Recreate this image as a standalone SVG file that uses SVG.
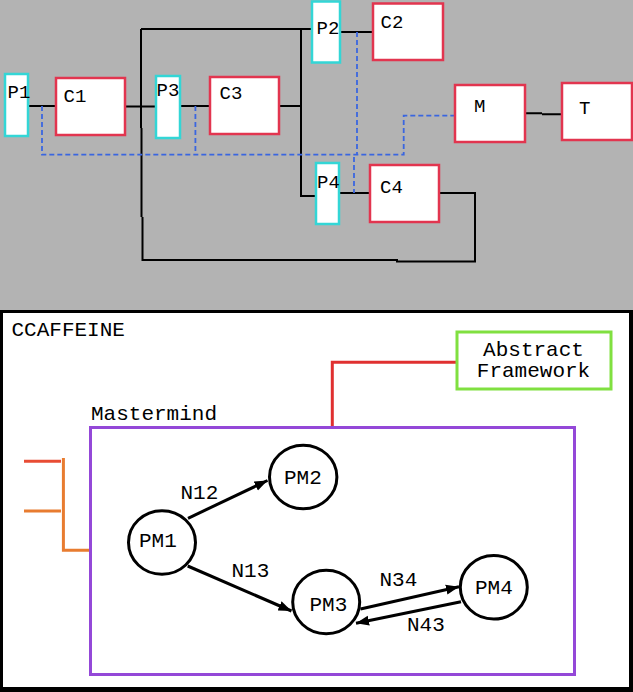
<svg xmlns="http://www.w3.org/2000/svg" width="633" height="692" viewBox="0 0 633 692">
<style>
.port{fill:#fff;stroke:#33d6d6;stroke-width:2.5}
.comp{fill:#fff;stroke:#e2354f;stroke-width:2.5}
.t1{font-family:"Liberation Mono","Courier New",monospace;font-size:19px;fill:#000}
.t2{font-family:"Liberation Mono","Courier New",monospace;font-size:21px;fill:#000}
.wire{fill:none;stroke:#000;stroke-width:2}
.dash{fill:none;stroke:#3a66e0;stroke-width:1.8;stroke-dasharray:5 3}
.pm{fill:#fff;stroke:#000;stroke-width:3}
.edge{fill:none;stroke:#000;stroke-width:3}
</style>
<defs>
<marker id="arr" markerUnits="userSpaceOnUse" markerWidth="14" markerHeight="12" refX="13" refY="6" orient="auto">
<path d="M0,1 L13,6 L0,11 Z" fill="#000"/>
</marker>
</defs>
<rect x="0" y="0" width="633" height="310" fill="#b3b3b3"/>
<rect x="0" y="310" width="633" height="382" fill="#000"/>
<rect x="3" y="313" width="626" height="374" fill="#fff"/>
<g id="connectors">
<path class="wire" d="M141,29 H312 M141,29 V128"/>
<path class="wire" stroke-width="2.5" d="M141.5,128 V217 M142.5,217 V260 H398 M396,261.5 H475 V193 H439"/>
<path class="wire" stroke-width="2.5" d="M28,106 H56 M125,106.5 H156 M180,106 H210"/>
<path class="wire" stroke-width="1.7" d="M279,106 H301 M301,29 V196 H316"/>
<path class="wire" d="M341,32 H373"/>
<path class="wire" stroke-width="3" d="M339,193 H370"/>
<path class="wire" stroke-width="3" d="M525,113.3 H542 M542,114.3 H562"/>
<path class="dash" d="M42,106 V154.7 H403.7 V115.7 H455"/>
<path class="dash" d="M195.4,106 V154.7"/>
<path class="dash" d="M357,32 V154"/>
<path class="dash" stroke-width="2.2" d="M354,157 V193"/>
<path fill="none" stroke="#e03030" stroke-width="3" d="M457,362.3 H332.3 V427"/>
<path fill="none" stroke="#e84c34" stroke-width="3" d="M24,461.3 H61"/>
<path fill="none" stroke="#e87c30" stroke-width="3" d="M24,511 H61 M63.4,458 V550.3 H90"/>
<line class="edge" x1="188" y1="518.3" x2="267.5" y2="480.5" marker-end="url(#arr)"/>
<line class="edge" x1="187.7" y1="566" x2="291.5" y2="611" marker-end="url(#arr)"/>
<line class="edge" x1="360.5" y1="609" x2="459" y2="586.7" marker-end="url(#arr)"/>
<line class="edge" x1="461" y1="601.7" x2="356" y2="623.3" marker-end="url(#arr)"/>
</g>
<g id="P1"><rect class="port" x="5" y="74" width="23" height="62"/><text class="t1" x="7.5" y="98">P1</text></g>
<g id="C1"><rect class="comp" x="56" y="78" width="69" height="57"/><text class="t1" x="63.5" y="101.5">C1</text></g>
<g id="P3"><rect class="port" x="156" y="76" width="24" height="62"/><text class="t1" x="156.5" y="96">P3</text></g>
<g id="C3"><rect class="comp" x="210" y="77" width="69" height="57"/><text class="t1" x="219.5" y="99">C3</text></g>
<g id="P2"><rect class="port" x="312" y="1.5" width="28" height="61"/><text class="t1" x="316.5" y="34">P2</text></g>
<g id="C2"><rect class="comp" x="373" y="3.5" width="70" height="56.5"/><text class="t1" x="380.5" y="28">C2</text></g>
<g id="P4"><rect class="port" x="316" y="163" width="23" height="61"/><text class="t1" x="317" y="188.3">P4</text></g>
<g id="C4"><rect class="comp" x="370" y="165" width="69" height="57"/><text class="t1" x="380" y="192.7">C4</text></g>
<g id="M"><rect class="comp" x="455" y="85" width="70" height="57"/><text class="t1" x="474" y="112">M</text></g>
<g id="T"><rect class="comp" x="562" y="83" width="70" height="57"/><text class="t1" x="579" y="114">T</text></g>
<g id="CCAFFEINE"><text class="t2" x="11.5" y="336">CCAFFEINE</text></g>
<g id="AbstractFramework"><rect x="457" y="332" width="154" height="57" fill="#fff" stroke="#80e040" stroke-width="3"/><text class="t2" x="533.5" y="355.7" text-anchor="middle">Abstract</text><text class="t2" x="533.5" y="377.3" text-anchor="middle">Framework</text></g>
<g id="Mastermind"><rect x="90.5" y="427.5" width="484" height="247" fill="none" stroke="#9448d8" stroke-width="3"/><text class="t2" x="91" y="420">Mastermind</text></g>
<g id="PM1"><ellipse class="pm" cx="162" cy="542.5" rx="33.5" ry="31.8"/><text class="t2" x="139" y="547.3">PM1</text></g>
<g id="PM2"><ellipse class="pm" cx="303.2" cy="477" rx="33.7" ry="31.8"/><text class="t2" x="284" y="484.3">PM2</text></g>
<g id="PM3"><ellipse class="pm" cx="326.2" cy="602" rx="33.5" ry="31.8"/><text class="t2" x="309.5" y="611">PM3</text></g>
<g id="PM4"><ellipse class="pm" cx="493.8" cy="587.3" rx="33.5" ry="31.8"/><text class="t2" x="475" y="594">PM4</text></g>
<g id="labels">
<text class="t2" x="180.5" y="499">N12</text>
<text class="t2" x="231.5" y="577">N13</text>
<text class="t2" x="379.5" y="585.7">N34</text>
<text class="t2" x="407" y="631">N43</text>
</g>
</svg>
